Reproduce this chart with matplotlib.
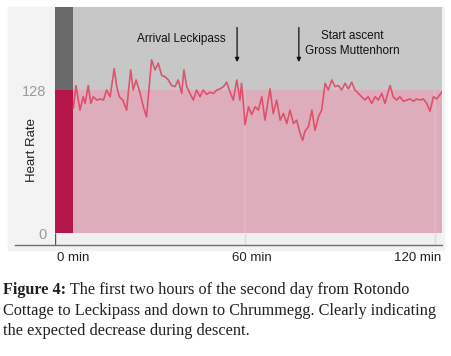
import matplotlib.pyplot as plt
import matplotlib.transforms as mtransforms
from matplotlib.lines import Line2D
from matplotlib.patches import Rectangle

# heart rate trace (minutes, bpm)
minutes = [5.8, 6.6, 7.9, 8.9, 9.5, 10.5, 11.3, 12.1, 13.2, 14.2, 15.3, 16.3, 17.4, 18.7,
           19.5, 20.3, 21.4, 22.6, 23.9, 24.7, 25.6, 26.8, 27.9, 28.9, 30.5, 31.6, 32.6,
           33.7, 34.7, 35.8, 36.8, 37.9, 38.9, 40.0, 40.7, 41.6, 42.6, 43.7, 44.7, 45.8,
           46.8, 47.9, 48.9, 50.0, 51.1, 52.1, 53.2, 54.2, 55.3, 56.3, 57.4, 58.4, 58.9,
           59.5, 60.0, 61.1, 62.1, 63.2, 64.2, 65.3, 66.3, 67.9, 68.9, 70.0, 71.1, 72.1,
           73.2, 74.2, 75.3, 76.3, 77.4, 78.2, 78.9, 80.0, 81.1, 82.1, 83.2, 84.2, 85.3,
           86.3, 87.4, 88.4, 89.5, 90.5, 91.6, 92.6, 93.7, 94.7, 95.8, 96.8, 97.9, 98.9,
           100.0, 101.1, 102.1, 103.2, 104.2, 105.8, 106.8, 107.9, 108.9, 110.0, 111.1,
           112.1, 113.2, 114.2, 115.3, 116.3, 117.4, 118.4, 119.5, 120.5, 121.6, 122.1]
heart_rate = [112, 132, 110, 122, 116, 132, 116, 122, 119, 120, 119, 128, 122, 147,
              131, 122, 119, 110, 146, 128, 137, 126, 113, 104, 155, 146, 152,
              141, 140, 137, 132, 131, 137, 125, 146, 131, 125, 119, 128, 122,
              128, 124, 126, 125, 128, 129, 131, 135, 126, 119, 137, 119, 134,
              116, 97, 113, 106, 113, 110, 122, 101, 129, 107, 119, 101, 107,
              98, 110, 98, 101, 89, 83, 91, 95, 110, 92, 104, 110, 134,
              128, 137, 131, 132, 128, 134, 129, 135, 128, 125, 122, 119, 122,
              116, 122, 119, 125, 116, 132, 122, 119, 122, 118, 119,
              120, 118, 120, 119, 120, 116, 109, 122, 120, 124, 126]

zone_top = 128
bar_end = 5.7
x_ticks = [0, 60, 120]
x_labels = ["0 min", "60 min", "120 min"]
x_label_pos = [5.7, 62.2, 114.6]
events = [("Arrival Leckipass", 57.5, 39.8, 173.7),
          ("Start ascent\nGross Muttenhorn", 77.0, 93.9, 169.8)]

W, H = 451, 356
fig = plt.figure(figsize=(W / 100, H / 100), dpi=100)
fig.patch.set_facecolor("white")

# light screenshot background behind the chart
fig.patches.append(Rectangle((8 / W, 1 - 250 / H), (444 - 8) / W, (250 - 7) / H,
                             transform=fig.transFigure, color="#f3f3f3", zorder=-5))

ax = fig.add_axes([55 / W, 1 - 245 / H, (442 - 55) / W, (245 - 7) / H])
ax.set_zorder(2)
ax.set_xlim(0, 122.2)
ax.set_ylim(-10.7, 202.3)
ax.set_facecolor("#f1eff0")
for s in ax.spines.values():
    s.set_visible(False)

ax.axhspan(zone_top, 202.3, color="#c7c7c7", lw=0, zorder=0)
ax.axhspan(0, zone_top, color="#deadbc", lw=0, zorder=0)
ax.axvspan(0, bar_end, ymin=(zone_top + 10.7) / 213, ymax=1, color="#696969", lw=0, zorder=1)
ax.axvspan(0, bar_end, ymin=10.7 / 213, ymax=(zone_top + 10.7) / 213, color="#b4164a", lw=0, zorder=1)

ax.vlines(x_ticks[1:], 0, zone_top, color="#e3b9c6", lw=1.2, zorder=1)
ax.vlines(x_ticks[1:], -10.7, 0, color="#dcdcdc", lw=1.0, zorder=1)
ax.vlines([0], -10.7, 0, color="#555555", lw=1.0, zorder=2)

ax.plot(minutes, heart_rate, color="#e0405e", lw=1.2, alpha=0.85, zorder=3)

ax.set_yticks([0, zone_top])
ax.set_yticklabels(["0", "128"], color="#9a9a9a", fontsize=10.5, family="Liberation Sans")
ax.tick_params(axis="y", length=0, pad=6)
ax.set_xticks([])

trans = mtransforms.blended_transform_factory(ax.transData, ax.transAxes)
for lab, xp in zip(x_labels, x_label_pos):
    ax.text(xp, -13 / 238, lab, transform=trans, ha="center", va="center",
            fontsize=9.5, color="#222222", family="Liberation Sans", clip_on=False)

for txt, xa, xt, yt in events:
    ax.annotate("", xy=(xa, 153), xytext=(xa, 184),
                arrowprops=dict(arrowstyle="-|>", color="#111111", lw=0.9,
                                mutation_scale=6, shrinkA=0, shrinkB=0))
    ax.text(xt, yt, txt, ha="center", va="center", fontsize=8.5, color="#111111",
            family="Liberation Sans", linespacing=1.35)

fig.add_artist(Line2D([15 / W, 442 / W], [1 - 245 / H] * 2, color="#707070", lw=1.0, zorder=5))
fig.text(32 / W, 1 - 150 / H, "Heart Rate", rotation=90, ha="center", va="center",
         fontsize=9.5, color="#222222", family="Liberation Sans")

# caption, first word bold
cap_kw = dict(fontsize=11.7, color="#231f20", family="Liberation Serif", va="center")
bold = fig.text(3 / W, 1 - 290 / H, "Figure 4:", weight="bold", **cap_kw)
fig.canvas.draw()
bb = bold.get_window_extent().transformed(fig.transFigure.inverted())
fig.text(bb.x1, 1 - 290 / H, " The first two hours of the second day from Rotondo", **cap_kw)
fig.text(3 / W, 1 - 311 / H, "Cottage to Leckipass and down to Chrummegg. Clearly indicating", **cap_kw)
fig.text(3 / W, 1 - 331 / H, "the expected decrease during descent.", **cap_kw)

fig.savefig("out.png", dpi=100)
